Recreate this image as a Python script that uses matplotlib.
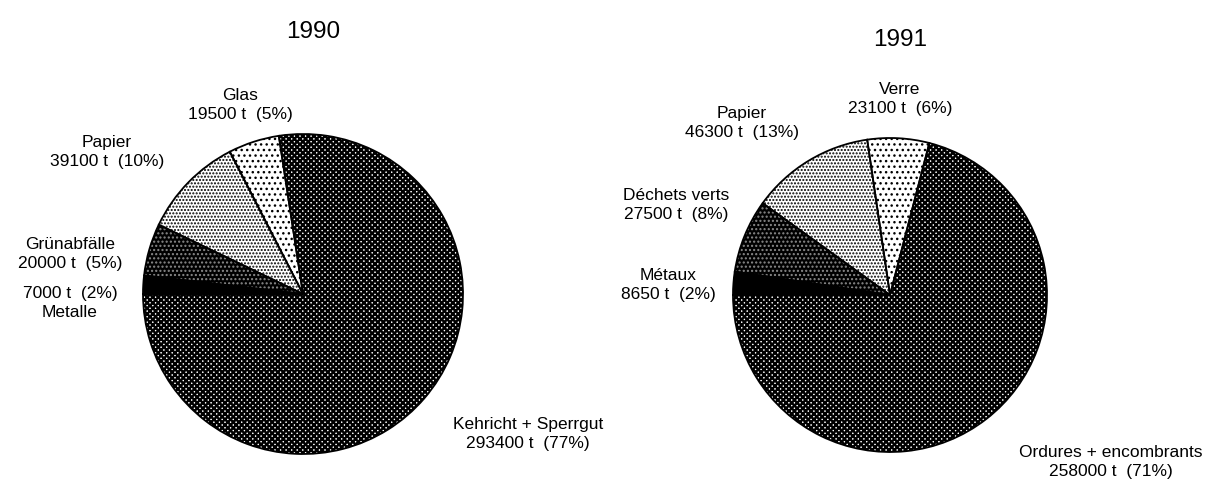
import matplotlib
matplotlib.use("Agg")
import matplotlib.pyplot as plt

W, H = 1221, 485

# 1990 (German labels), order counter-clockwise from the left horizontal
names_90 = ["Kehricht + Sperrgut", "Glas", "Papier", "Grünabfälle", "Metalle"]
tons_90 = [293400, 19500, 39100, 20000, 7000]

# 1991 (French labels)
names_91 = ["Ordures + encombrants", "Verre", "Papier", "Déchets verts", "Métaux"]
tons_91 = [258000, 23100, 46300, 27500, 8650]

titles = ["1990", "1991"]

plt.rcParams["font.family"] = ["Liberation Sans", "DejaVu Sans"]
plt.rcParams["hatch.linewidth"] = 1.0

fig = plt.figure(figsize=(W / 100, H / 100), dpi=100)
ax = fig.add_axes([0, 0, 1, 1])

# face colour, hatch, hatch colour for: main, glass, paper, green, metal
styles = [
    ("white", "xxxxxx", "black"),
    ("white", "...", "black"),
    ("white", ".....", "black"),
    ("black", "....", "#8a8a8a"),
    ("black", "", "black"),
]


def draw_pie(values, cx, cy, r):
    wedges, _ = ax.pie(values, center=(cx, H - cy), radius=r, startangle=180,
                       wedgeprops=dict(linewidth=0))
    for w, (fc, hatch, hc) in zip(wedges, styles):
        w.set_facecolor(fc)
        w.set_hatch(hatch)
        w.set_edgecolor(hc)
        if hatch.startswith("x") and hasattr(w, "set_hatch_linewidth"):
            w.set_hatch_linewidth(1.7)
    ax.pie(values, center=(cx, H - cy), radius=r, startangle=180,
           wedgeprops=dict(fill=False, edgecolor="black", linewidth=1.3))


def label(value, total):
    pct = round(100 * value / total)
    return f"{value} t  ({pct}%)"


draw_pie(tons_90, 303, 295, 160)
draw_pie(tons_91, 890, 296, 157)

fs = 12.5
kw = dict(fontsize=fs, linespacing=1.35, va="center")
t90 = sum(tons_90)
t91 = sum(tons_91)

ax.text(313, H - 32, titles[0], fontsize=17.5, ha="center", va="center")
ax.text(900, H - 40, titles[1], fontsize=17.5, ha="center", va="center")

# 1990 labels
ax.text(240, H - 105, names_90[1] + "\n" + label(tons_90[1], t90), ha="center", **kw)
ax.text(107, H - 152, names_90[2] + "\n" + label(tons_90[2], t90), ha="center", **kw)
ax.text(70, H - 254, names_90[3] + "\n" + label(tons_90[3], t90), ha="center", **kw)
ax.text(70, H - 303, label(tons_90[4], t90) + "\n" + names_90[4], ha="center", **kw)
ax.text(528, H - 434, names_90[0] + "\n" + label(tons_90[0], t90), ha="center", **kw)

# 1991 labels
ax.text(900, H - 99, names_91[1] + "\n" + label(tons_91[1], t91), ha="center", **kw)
ax.text(742, H - 123, names_91[2] + "\n" + label(tons_91[2], t91), ha="center", **kw)
ax.text(676, H - 205, names_91[3] + "\n" + label(tons_91[3], t91), ha="center", **kw)
ax.text(668, H - 285, names_91[4] + "\n" + label(tons_91[4], t91), ha="center", **kw)
ax.text(1111, H - 462, names_91[0] + "\n" + label(tons_91[0], t91), ha="center", **kw)

ax.set_xlim(0, W)
ax.set_ylim(0, H)
ax.axis("off")

fig.savefig("out.png", dpi=100, facecolor="white")
